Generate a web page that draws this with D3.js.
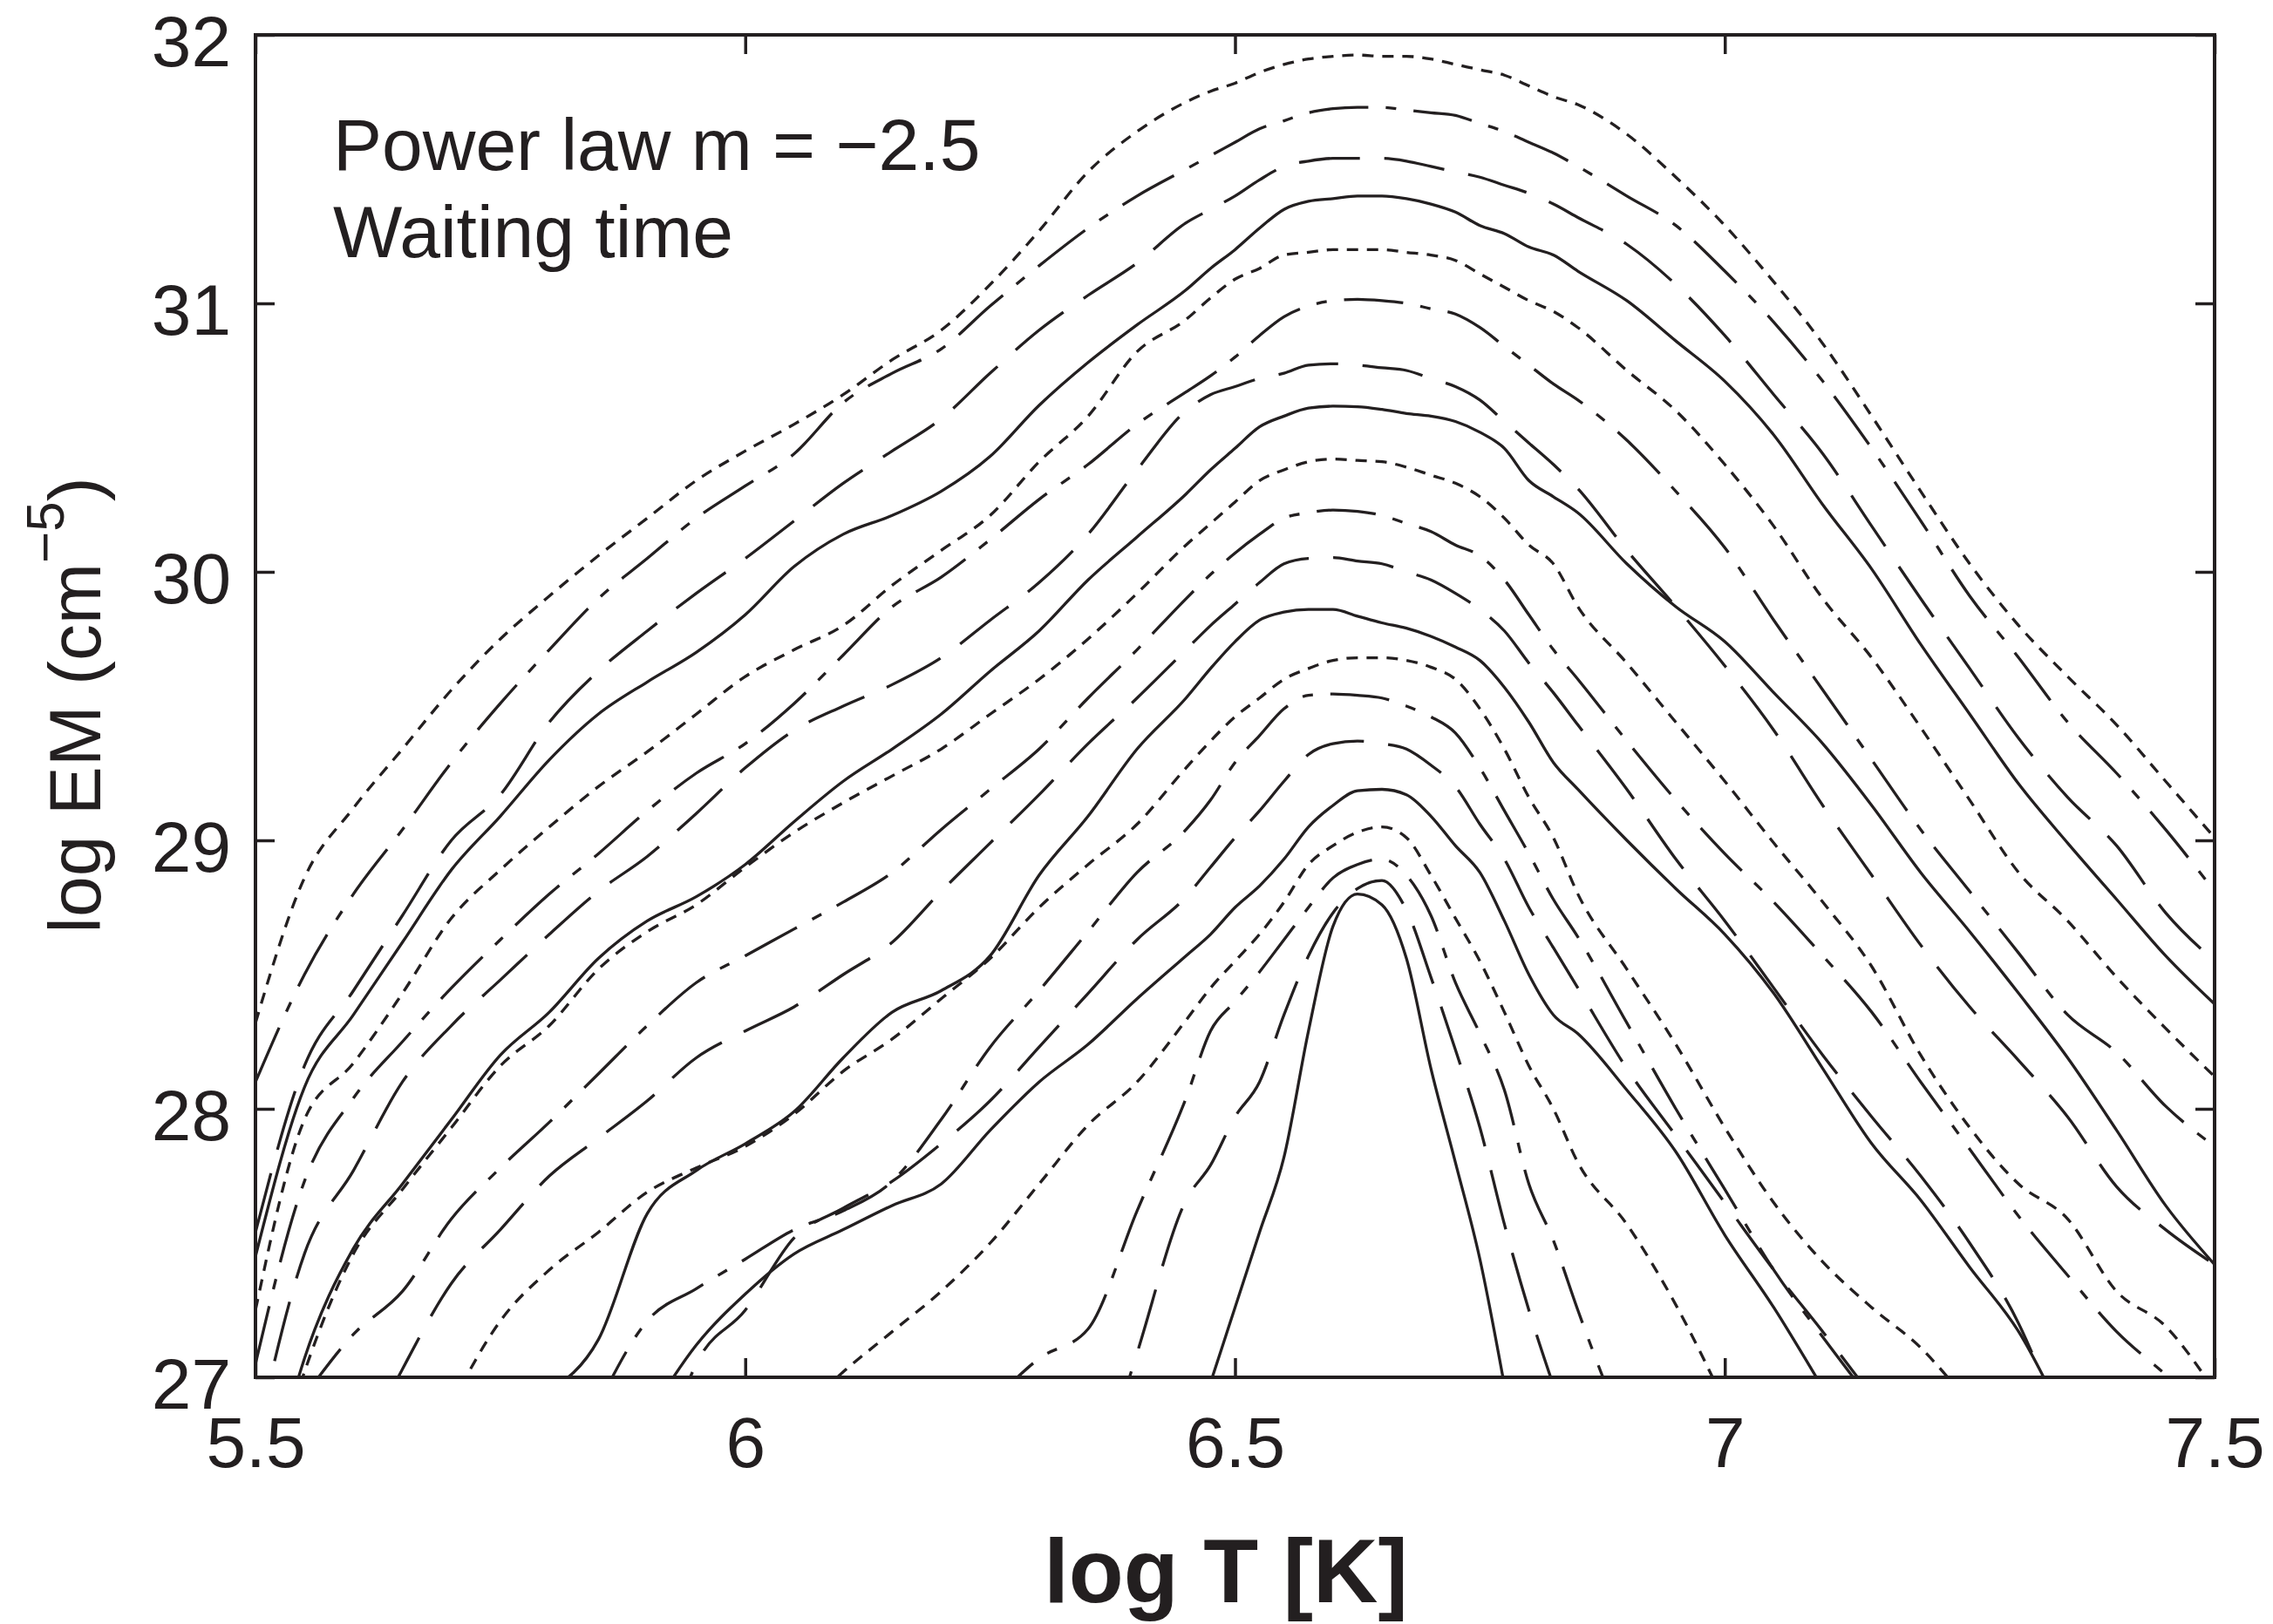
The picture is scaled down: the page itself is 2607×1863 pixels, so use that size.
<!DOCTYPE html>
<html>
<head>
<meta charset="utf-8">
<script src="https://cdn.jsdelivr.net/npm/d3@7"></script>
<style>
  html, body { margin: 0; padding: 0; background: #ffffff; }
  svg { display: block; }
</style>
</head>
<body>
<svg id="chart" width="2607" height="1863"></svg>
<script>
// Temperature grid (log T); finer spacing around the emission-measure peaks
const logT = [5.50,5.55,5.60,5.65,5.70,5.75,5.80,5.85,5.90,5.95,6.00,6.05,6.10,6.15,6.20,6.25,6.30,6.35,6.40,6.45,
              6.475,6.50,6.525,6.55,6.575,6.60,6.625,6.65,6.675,6.70,6.725,6.75,6.775,6.80,6.825,6.85,
              6.90,6.95,7.00,7.05,7.10,7.15,7.20,7.25,7.30,7.35,7.40,7.45,7.50];

// log EM curves, from the highest to the lowest
const em01 = [28.32,28.86,29.12,29.34,29.56,29.75,29.91,30.06,30.20,30.34,30.45,30.55,30.66,30.79,30.90,31.07,31.27,31.49,31.64,31.75,31.79,31.82,31.86,31.89,31.91,31.92,31.925,31.92,31.92,31.91,31.89,31.87,31.85,31.81,31.77,31.74,31.63,31.47,31.29,31.08,30.85,30.58,30.30,30.03,29.80,29.61,29.43,29.22,29.01];
const em02 = [28.10,28.50,28.80,29.04,29.29,29.51,29.71,29.90,30.05,30.20,30.32,30.44,30.63,30.74,30.83,30.99,31.14,31.28,31.40,31.50,31.55,31.60,31.65,31.68,31.71,31.725,31.73,31.73,31.72,31.71,31.70,31.67,31.64,31.60,31.56,31.51,31.40,31.29,31.12,30.93,30.71,30.46,30.19,29.91,29.68,29.44,29.25,29.04,28.81];
const em03 = [27.54,28.16,28.44,28.72,29.00,29.17,29.44,29.63,29.78,29.92,30.05,30.19,30.33,30.45,30.57,30.74,30.90,31.03,31.15,31.30,31.35,31.40,31.46,31.51,31.53,31.54,31.54,31.54,31.53,31.51,31.49,31.47,31.44,31.41,31.37,31.32,31.22,31.07,30.88,30.66,30.44,30.17,29.90,29.64,29.38,29.16,28.98,28.73,28.55];
const em04 = [27.45,28.08,28.35,28.62,28.89,29.09,29.30,29.47,29.59,29.70,29.84,30.02,30.14,30.21,30.30,30.43,30.62,30.78,30.92,31.05,31.13,31.20,31.28,31.35,31.38,31.39,31.40,31.40,31.39,31.37,31.34,31.29,31.26,31.21,31.18,31.12,31.01,30.86,30.71,30.51,30.25,30.01,29.73,29.47,29.21,28.99,28.78,28.57,28.39];
const em05 = [27.25,27.96,28.17,28.43,28.71,28.89,29.05,29.20,29.33,29.47,29.61,29.71,29.80,29.95,30.08,30.21,30.41,30.58,30.82,30.94,31.02,31.09,31.13,31.18,31.19,31.20,31.20,31.20,31.19,31.18,31.16,31.11,31.06,31.01,30.97,30.91,30.75,30.60,30.40,30.17,29.90,29.68,29.42,29.15,28.88,28.70,28.49,28.30,28.12];
const em06 = [27.05,27.73,28.04,28.25,28.45,28.63,28.80,28.95,29.11,29.25,29.36,29.51,29.69,29.87,29.98,30.12,30.27,30.40,30.55,30.67,30.73,30.80,30.88,30.95,30.99,31.01,31.015,31.01,31.00,30.98,30.96,30.91,30.84,30.77,30.70,30.64,30.49,30.30,30.09,29.82,29.56,29.30,29.04,28.81,28.58,28.35,28.21,28.01,27.86];
const em07 = [26.75,27.46,27.77,28.10,28.31,28.48,28.65,28.81,28.94,29.10,29.27,29.41,29.50,29.58,29.68,29.82,29.96,30.14,30.38,30.60,30.66,30.69,30.72,30.74,30.77,30.775,30.77,30.76,30.75,30.72,30.69,30.64,30.56,30.48,30.40,30.31,30.08,29.87,29.65,29.41,29.13,28.87,28.61,28.38,28.18,27.97,27.71,27.55,27.42];
const em08 = [26.37,27.07,27.48,27.72,27.96,28.20,28.36,28.56,28.70,28.79,28.91,29.07,29.22,29.34,29.47,29.63,29.78,29.97,30.13,30.29,30.38,30.46,30.54,30.58,30.61,30.617,30.615,30.605,30.59,30.58,30.56,30.52,30.46,30.34,30.28,30.22,30.03,29.87,29.74,29.55,29.36,29.13,28.88,28.66,28.43,28.19,27.92,27.64,27.42];
const em09 = [26.40,27.02,27.46,27.70,27.93,28.16,28.31,28.52,28.66,28.76,28.90,29.03,29.14,29.24,29.34,29.47,29.60,29.75,29.92,30.10,30.18,30.26,30.34,30.38,30.41,30.42,30.415,30.41,30.39,30.36,30.33,30.28,30.20,30.10,30.03,29.87,29.66,29.44,29.22,28.99,28.77,28.53,28.20,27.93,27.72,27.59,27.32,27.19,26.95];
const em10 = [null,26.93,27.16,27.32,27.59,27.78,27.95,28.13,28.31,28.47,28.57,28.67,28.77,28.88,29.04,29.19,29.34,29.53,29.71,29.90,29.99,30.07,30.14,30.20,30.22,30.23,30.225,30.21,30.18,30.15,30.10,30.06,29.97,29.84,29.71,29.60,29.37,29.15,28.95,28.77,28.57,28.36,28.10,27.85,27.60,27.38,27.17,27.01,26.85];
const em11 = [null,null,26.66,27.03,27.35,27.55,27.75,27.89,28.03,28.19,28.29,28.38,28.50,28.62,28.81,28.99,29.17,29.36,29.53,29.71,29.80,29.88,29.96,30.03,30.05,30.053,30.04,30.03,30.00,29.97,29.92,29.86,29.78,29.66,29.55,29.43,29.19,28.93,28.70,28.45,28.20,27.97,27.75,27.50,27.20,26.75,null,null,null];
const em12 = [null,null,null,null,null,null,26.95,27.14,27.61,27.77,27.87,27.99,28.19,28.36,28.44,28.57,28.87,29.09,29.34,29.53,29.64,29.74,29.82,29.85,29.86,29.86,29.835,29.81,29.79,29.76,29.72,29.67,29.57,29.44,29.29,29.19,29.00,28.82,28.65,28.43,28.15,27.87,27.66,27.41,27.17,26.82,null,null,null];
const em13 = [null,null,null,null,26.90,27.21,27.40,27.54,27.69,27.78,27.86,27.98,28.14,28.26,28.41,28.56,28.75,28.91,29.06,29.27,29.37,29.46,29.53,29.60,29.64,29.67,29.68,29.68,29.67,29.645,29.60,29.49,29.34,29.16,29.01,28.80,28.52,28.24,27.93,27.65,27.43,27.26,27.11,26.90,null,null,null,null,null];
const em14 = [null,null,null,null,null,null,null,26.90,27.21,27.33,27.44,27.55,27.62,27.73,27.96,28.23,28.44,28.66,28.88,29.04,29.15,29.29,29.39,29.49,29.54,29.545,29.54,29.53,29.50,29.46,29.40,29.27,29.11,28.95,28.78,28.64,28.32,28.00,27.70,27.40,27.15,26.91,null,null,null,null,null,null,null];
const em15 = [null,null,null,null,null,null,null,null,26.50,27.05,27.25,27.52,27.63,27.73,27.87,28.03,28.23,28.43,28.63,28.79,28.90,29.01,29.11,29.22,29.32,29.36,29.37,29.36,29.34,29.28,29.20,29.06,28.93,28.75,28.60,28.45,28.15,27.90,27.65,27.40,27.17,26.93,null,null,null,null,null,null,null];
const em16 = [null,null,null,null,null,null,null,null,26.85,27.12,27.31,27.46,27.55,27.64,27.72,27.92,28.10,28.24,28.41,28.57,28.65,28.75,28.83,28.93,29.05,29.13,29.185,29.19,29.17,29.09,28.98,28.88,28.70,28.50,28.35,28.28,28.07,27.84,27.53,27.26,26.96,null,null,null,null,null,null,null,null];
const em17 = [null,null,null,null,null,null,null,null,null,null,null,26.85,27.02,27.17,27.32,27.50,27.72,27.94,28.10,28.33,28.45,28.55,28.65,28.77,28.91,28.98,29.03,29.05,29.01,28.87,28.71,28.55,28.36,28.16,28.00,27.80,27.57,27.27,26.905,null,null,null,null,null,null,null,null,null,null];
const em18 = [null,null,null,null,null,null,null,null,null,null,null,null,null,null,null,26.90,27.07,27.18,27.62,28.04,28.29,28.40,28.51,28.63,28.75,28.86,28.91,28.93,28.87,28.72,28.47,28.28,28.07,27.72,27.51,27.25,26.77,null,null,null,null,null,null,null,null,null,null,null,null];
const em19 = [null,null,null,null,null,null,null,null,null,null,null,null,null,null,null,null,null,26.50,27.09,27.66,27.79,27.97,28.10,28.35,28.57,28.73,28.82,28.85,28.74,28.49,28.22,27.93,27.57,27.25,26.97,null,null,null,null,null,null,null,null,null,null,null,null,null,null];
const em20 = [null,null,null,null,null,null,null,null,null,null,null,null,null,null,null,null,null,null,null,null,26.98,27.26,27.54,27.82,28.29,28.68,28.80,28.76,28.56,28.15,27.80,27.44,26.97,null,null,null,null,null,null,null,null,null,null,null,null,null,null,null,null];

// Axis ticks and labels
const xTicks = [5.5, 6, 6.5, 7, 7.5];
const xTickLabels = ["5.5", "6", "6.5", "7", "7.5"];
const yTicks = [27, 28, 29, 30, 31, 32];
const yTickLabels = ["27", "28", "29", "30", "31", "32"];
const annotation = ["Power law m = \u22122.5", "Waiting time"];

// ---------------------------------------------------------------------------
const svg = d3.select("#chart");
const ink = "#231f20";
const font = "'Liberation Sans', Arial, Helvetica, sans-serif";

const X0 = 293, X1 = 2540, Y0 = 1580, Y1 = 40;
const x = d3.scaleLinear().domain([5.5, 7.5]).range([X0, X1]);
const y = d3.scaleLinear().domain([27, 32]).range([Y0, Y1]);

svg.append("rect").attr("width", 2607).attr("height", 1863).attr("fill", "#ffffff");

svg.append("defs").append("clipPath").attr("id", "plotClip")
  .append("rect").attr("x", X0).attr("y", Y1).attr("width", X1 - X0).attr("height", Y0 - Y1);

// line styles cycle: dotted, dash-dot, dashed, solid
const curves = [em01, em02, em03, em04, em05, em06, em07, em08, em09, em10,
                em11, em12, em13, em14, em15, em16, em17, em18, em19, em20];
const styleCycle = ["dotted", "dashdot", "dashed", "solid"];
const dashArray = { dotted: "13,10", dashdot: "68,20,12,20", dashed: "70,28", solid: null };

const line = d3.line()
  .defined(d => d[1] !== null)
  .x(d => x(d[0]))
  .y(d => y(d[1]))
  .curve(d3.curveMonotoneX);

const plot = svg.append("g").attr("clip-path", "url(#plotClip)");
curves.forEach((vals, i) => {
  const pts = logT.map((t, j) => [t, vals[j]]);
  plot.append("path")
    .attr("d", line(pts))
    .attr("fill", "none")
    .attr("stroke", ink)
    .attr("stroke-width", 3.3)
    .attr("stroke-linejoin", "round")
    .attr("stroke-dasharray", dashArray[styleCycle[i % 4]]);
});

// axes (inward ticks on all four sides)
const tickLen = 22;
function styleAxis(g) {
  g.select(".domain").remove();
  g.selectAll(".tick line").attr("stroke", ink).attr("stroke-width", 3.5);
  g.selectAll(".tick text")
    .attr("fill", ink)
    .attr("font-family", font)
    .attr("font-size", 82);
  g.attr("font-family", null).attr("font-size", null);
}

svg.append("g")
  .attr("transform", `translate(0,${Y0})`)
  .call(d3.axisBottom(x).tickValues(xTicks)
    .tickFormat((d, i) => xTickLabels[i])
    .tickSizeInner(-tickLen).tickSizeOuter(0).tickPadding(45))
  .call(styleAxis);

svg.append("g")
  .attr("transform", `translate(${X0},0)`)
  .call(d3.axisLeft(y).tickValues(yTicks)
    .tickFormat((d, i) => yTickLabels[i])
    .tickSizeInner(-tickLen).tickSizeOuter(0).tickPadding(28))
  .call(styleAxis)
  .call(g => g.selectAll(".tick text").attr("dy", "0.43em"));

svg.append("g")
  .attr("transform", `translate(0,${Y1})`)
  .call(d3.axisTop(x).tickValues(xTicks).tickFormat("")
    .tickSizeInner(-tickLen).tickSizeOuter(0))
  .call(styleAxis);

svg.append("g")
  .attr("transform", `translate(${X1},0)`)
  .call(d3.axisRight(y).tickValues(yTicks).tickFormat("")
    .tickSizeInner(-tickLen).tickSizeOuter(0))
  .call(styleAxis);

// frame
svg.append("rect")
  .attr("x", X0).attr("y", Y1)
  .attr("width", X1 - X0).attr("height", Y0 - Y1)
  .attr("fill", "none").attr("stroke", ink).attr("stroke-width", 4);

// annotation inside the plot
annotation.forEach((txt, i) => {
  svg.append("text")
    .attr("x", 382).attr("y", 195 + i * 100)
    .attr("font-family", font).attr("font-size", 84).attr("fill", ink)
    .text(txt);
});

// y-axis title with superscript
const yTitle = svg.append("text")
  .attr("transform", "translate(115,809) rotate(-90)")
  .attr("text-anchor", "middle")
  .attr("font-family", font).attr("font-size", 84).attr("fill", ink);
yTitle.append("tspan").text("log EM (cm");
yTitle.append("tspan").attr("dy", -42).attr("font-size", 62).text("\u22125");
yTitle.append("tspan").attr("dy", 42).text(")");

// x-axis title
svg.append("text")
  .attr("x", 1406).attr("y", 1838)
  .attr("text-anchor", "middle")
  .attr("font-family", font).attr("font-size", 103).attr("font-weight", "bold").attr("fill", ink)
  .text("log T [K]");
</script>
</body>
</html>
